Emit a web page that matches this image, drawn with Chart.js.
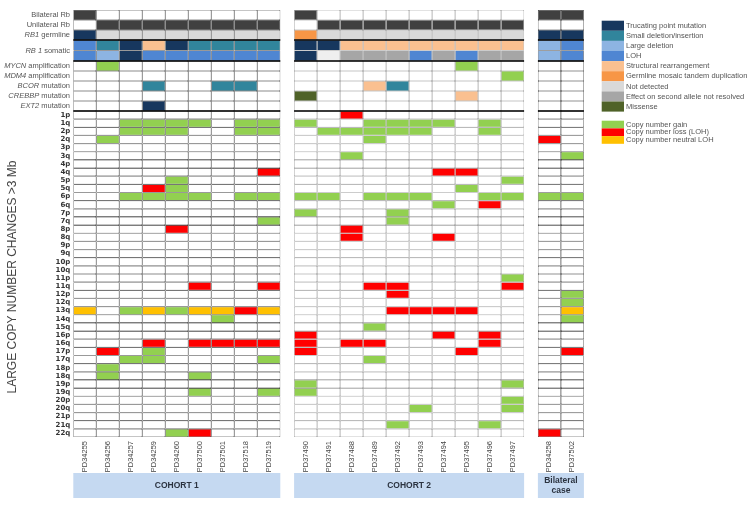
<!DOCTYPE html>
<html>
<head>
<meta charset="utf-8">
<script src="https://cdn.jsdelivr.net/npm/chart.js@4.4.1/dist/chart.umd.min.js"></script>
<style>
  html, body { margin: 0; padding: 0; background: #fff; }
  #wrap { width: 752px; height: 507px; }
</style>
</head>
<body>
<div id="wrap"><canvas id="chart"></canvas></div>
<script>
// samples, in plotting order
const cohort1 = ['PD34255', 'PD34256', 'PD34257', 'PD34259', 'PD34260', 'PD37500', 'PD37501', 'PD37518', 'PD37519'];
const cohort2 = ['PD37490', 'PD37491', 'PD37488', 'PD37489', 'PD37492', 'PD37493', 'PD37494', 'PD37495', 'PD37496', 'PD37497'];
const bilateralCase = ['PD34258', 'PD37502'];
const groupNames = ['COHORT 1', 'COHORT 2', 'Bilateral\ncase'];

// one code per sample, groups split by |
// D dark (yes), T trucating, S small del/ins, L large deletion, H LOH, R structural,
// G germline mosaic dup, N not detected, U not resolved, M missense, W blank grey, A amplified
const bilateralRb  = 'D........|D.........|DD';
const unilateralRb = '.DDDDDDDD|.DDDDDDDDD|..';
const rb1Germline  = 'TNNNNNNNN|GNNNNNNNNN|TT';
const rb1SomaticA  = 'HSTRTSSSS|TTRRRRRRRR|LH';
const rb1SomaticB  = 'HLTHHHHHH|TWUUUHUHUU|LH';
const mycnAmp      = '.A.......|.......A..|..';
const mdm4Amp      = '.........|.........A|..';
const bcorMut      = '...S..SS.|...RS.....|..';
const crebbpMut    = '.........|M......R..|..';
const ext2Mut      = '...T.....|..........|..';

// copy number: G gain, L loss (LOH), N neutral LOH
const cnRows = ['1p','1q','2p','2q','3p','3q','4p','4q','5p','5q','6p','6q','7p','7q','8p','8q','9p','9q','10p','10q',
  '11p','11q','12p','12q','13q','14q','15q','16p','16q','17p','17q','18p','18q','19p','19q','20p','20q','21p','21q','22q'];
const cnCalls = [
  '.........|..L.......|..',
  '..GGGG.GG|G..GGGG.G.|..',
  '..GGG..GG|.GGGGG..G.|..',
  '.G.......|...G......|L.',
  '.........|..........|..',
  '.........|..G.......|.G',
  '.........|..........|..',
  '........L|......LL..|..',
  '....G....|.........G|..',
  '...LG....|.......G..|..',
  '..GGGG.GG|GG.GGG..GG|GG',
  '.........|......G.L.|..',
  '.........|G...G.....|..',
  '........G|....G.....|..',
  '....L....|..L.......|..',
  '.........|..L...L...|..',
  '.........|..........|..',
  '.........|..........|..',
  '.........|..........|..',
  '.........|..........|..',
  '.........|.........G|..',
  '.....L..L|...LL....L|..',
  '.........|....L.....|.G',
  '.........|..........|.G',
  'N.GNGNNLN|....LLLL..|.N',
  '......G..|..........|.G',
  '.........|...G......|..',
  '.........|L.....L.L.|..',
  '...L.LLLL|L.LL....L.|..',
  '.L.G.....|L......L..|.L',
  '..GG....G|...G......|..',
  '.G.......|..........|..',
  '.G...G...|..........|..',
  '.........|G........G|..',
  '.....G..G|G.........|..',
  '.........|.........G|..',
  '.........|.....G...G|..',
  '.........|..........|..',
  '.........|....G...G.|..',
  '....GL...|..........|L.'
];

const mutationLegend = ['Trucating point mutation', 'Small deletion/insertion', 'Large deletion', 'LOH',
  'Structural rearrangement', 'Germline mosaic tandem duplication', 'Not detected',
  'Effect on second allele not resolved', 'Missense'];
const mutationCodes = ['T', 'S', 'L', 'H', 'R', 'G', 'N', 'U', 'M'];
const cnLegend = ['Copy number gain', 'Copy number loss (LOH)', 'Copy number neutral LOH'];
const cnCodes = ['G', 'L', 'N'];

const mutColors = { D: '#404040', T: '#17375e', S: '#31859c', L: '#8db4e2', H: '#4f86d2', R: '#fac090',
  G: '#f79646', N: '#d9d9d9', U: '#a6a6a6', M: '#4f6228', W: '#efefef', A: '#92d050' };
const cnColors = { G: '#92d050', L: '#ff0000', N: '#ffc000' };
const groupBorders = ['#1a1a1a', '#8c8c8c', '#262626'];

// ---- layout ----
const gapW = 0.6;
const groups = [cohort1, cohort2, bilateralCase];
const samples = groups.flat();
const xCenters = [];
const sampleGroup = [];
const groupSpans = [];
let xPos = 0;
groups.forEach((g, gi) => {
  groupSpans.push([xPos, xPos + g.length]);
  g.forEach((s, i) => { xCenters.push(xPos + i + 0.5); sampleGroup.push(gi); });
  xPos += g.length + gapW;
});
const xMax = xPos - gapW;

const topRows = [
  { codes: bilateralRb,  y0: 10,   y1: 20 },
  { codes: unilateralRb, y0: 20,   y1: 30 },
  { codes: rb1Germline,  y0: 30,   y1: 40 },
  { codes: rb1SomaticA,  y0: 40,   y1: 50.5 },
  { codes: rb1SomaticB,  y0: 50.5, y1: 61 },
  { codes: mycnAmp,      y0: 61,   y1: 71 },
  { codes: mdm4Amp,      y0: 71,   y1: 81 },
  { codes: bcorMut,      y0: 81,   y1: 91 },
  { codes: crebbpMut,    y0: 91,   y1: 101 },
  { codes: ext2Mut,      y0: 101,  y1: 111 }
];
const topLabels = [
  { y: 15, parts: [['', 'Bilateral Rb']] },
  { y: 25, parts: [['', 'Unilateral Rb']] },
  { y: 35, parts: [['i', 'RB1'], ['', ' germline']] },
  { y: 50.5, parts: [['i', 'RB 1'], ['', ' somatic']] },
  { y: 66, parts: [['i', 'MYCN'], ['', ' amplification']] },
  { y: 76, parts: [['i', 'MDM4'], ['', ' amplification']] },
  { y: 86, parts: [['i', 'BCOR'], ['', ' mutation']] },
  { y: 96, parts: [['i', 'CREBBP'], ['', ' mutation']] },
  { y: 106, parts: [['i', 'EXT2'], ['', ' mutation']] }
];
const cnTop = 111, cnH = 8.15;

// ---- build cells ----
const cells = [], cellColors = [], cellBorders = [];
function addRow(str, y0, y1, palette) {
  str.replace(/\|/g, '').split('').forEach((c, i) => {
    cells.push({ x: xCenters[i], y: [y0, y1] });
    cellColors.push(c === '.' ? '#ffffff' : palette[c]);
    cellBorders.push(groupBorders[sampleGroup[i]]);
  });
}
topRows.forEach(r => addRow(r.codes, r.y0, r.y1, mutColors));
cnCalls.forEach((r, i) => addRow(r, cnTop + i * cnH, cnTop + (i + 1) * cnH, cnColors));

const FONT = "'Liberation Sans', Arial, sans-serif";

const overlay = {
  id: 'overlay',
  afterDatasetsDraw(chart) {
    const { ctx, scales: { x, y } } = chart;
    ctx.save();
    ctx.strokeStyle = '#000';
    ctx.lineWidth = 1.3;
    groupSpans.forEach(([a, b]) => {
      [40, 61, 111].forEach(v => {
        const py = y.getPixelForValue(v);
        ctx.beginPath();
        ctx.moveTo(x.getPixelForValue(a), py);
        ctx.lineTo(x.getPixelForValue(b), py);
        ctx.stroke();
      });
    });
    ctx.restore();
  },
  afterDraw(chart) {
    const { ctx, scales: { x, y } } = chart;
    ctx.save();
    // gene / status labels
    ctx.textBaseline = 'middle';
    ctx.fillStyle = '#555';
    topLabels.forEach(l => {
      let w = 0;
      l.parts.forEach(([st, t]) => { ctx.font = (st ? 'italic ' : '') + '7.5px ' + FONT; w += ctx.measureText(t).width; });
      let px = 70 - w;
      const py = y.getPixelForValue(l.y);
      ctx.textAlign = 'left';
      l.parts.forEach(([st, t]) => {
        ctx.font = (st ? 'italic ' : '') + '7.5px ' + FONT;
        ctx.fillText(t, px, py);
        px += ctx.measureText(t).width;
      });
    });

    // axis title
    ctx.save();
    ctx.translate(13, 277);
    ctx.rotate(-Math.PI / 2);
    ctx.textAlign = 'center';
    ctx.fillStyle = '#444';
    ctx.font = '12px ' + FONT;
    ctx.fillText('LARGE COPY NUMBER CHANGES >3 Mb', 0, 0);
    ctx.restore();

    // cohort banners
    groupSpans.forEach(([a, b], gi) => {
      const l = x.getPixelForValue(a), r = x.getPixelForValue(b);
      ctx.fillStyle = '#c5d9f1';
      ctx.fillRect(l, 473, r - l, 25);
      ctx.fillStyle = '#2b3340';
      ctx.font = 'bold 8.5px ' + FONT;
      ctx.textAlign = 'center';
      const lines = groupNames[gi].split('\n');
      lines.forEach((t, k) => ctx.fillText(t, (l + r) / 2, 486 + (k - (lines.length - 1) / 2) * 10));
    });

    // legend
    ctx.textAlign = 'left';
    ctx.font = '7.5px ' + FONT;
    mutationLegend.forEach((t, i) => {
      const top = 20.7 + i * 10.1;
      ctx.fillStyle = mutColors[mutationCodes[i]];
      ctx.fillRect(601.7, top, 22.3, 10.1);
      ctx.fillStyle = '#555';
      ctx.fillText(t, 626, top + 5.2);
    });
    cnLegend.forEach((t, i) => {
      const top = 120.7 + i * 7.7;
      ctx.fillStyle = cnColors[cnCodes[i]];
      ctx.fillRect(601.7, top, 22.3, 7.7);
      ctx.fillStyle = '#555';
      ctx.fillText(t, 626, top + 4);
    });
    ctx.restore();
  }
};

Chart.defaults.font.family = FONT;

new Chart(document.getElementById('chart'), {
  type: 'bar',
  data: {
    datasets: [{
      data: cells,
      backgroundColor: cellColors,
      borderColor: cellBorders,
      borderWidth: 0.6,
      borderSkipped: false,
      inflateAmount: 0,
      barPercentage: 1,
      categoryPercentage: 1
    }]
  },
  options: {
    responsive: true,
    maintainAspectRatio: false,
    animation: false,
    events: [],
    layout: { padding: { left: 0, top: 10, right: 168.1, bottom: 0 } },
    plugins: { legend: { display: false }, tooltip: { enabled: false } },
    scales: {
      x: {
        type: 'linear', min: 0, max: xMax, offset: false,
        grid: { display: false, drawTicks: false }, border: { display: false },
        afterBuildTicks: s => { s.ticks = xCenters.map(v => ({ value: v })); },
        afterFit: s => { s.height = 70; },
        ticks: {
          autoSkip: false, minRotation: 90, maxRotation: 90, padding: 4,
          color: '#444', font: { size: 7.5 },
          callback: (v, i) => samples[i]
        }
      },
      y: {
        type: 'linear', reverse: true, min: 10, max: 437, stacked: false,
        grid: { display: false, drawTicks: false }, border: { display: false },
        afterBuildTicks: s => { s.ticks = cnRows.map((r, i) => ({ value: cnTop + cnH * (i + 0.5) })); },
        afterFit: s => { s.width = 73.3; },
        ticks: {
          autoSkip: false, padding: 3, color: '#333',
          font: { size: 7, weight: 'bold', family: "'DejaVu Sans', sans-serif" },
          callback: (v, i) => cnRows[i]
        }
      }
    }
  },
  plugins: [overlay]
});
</script>
</body>
</html>
